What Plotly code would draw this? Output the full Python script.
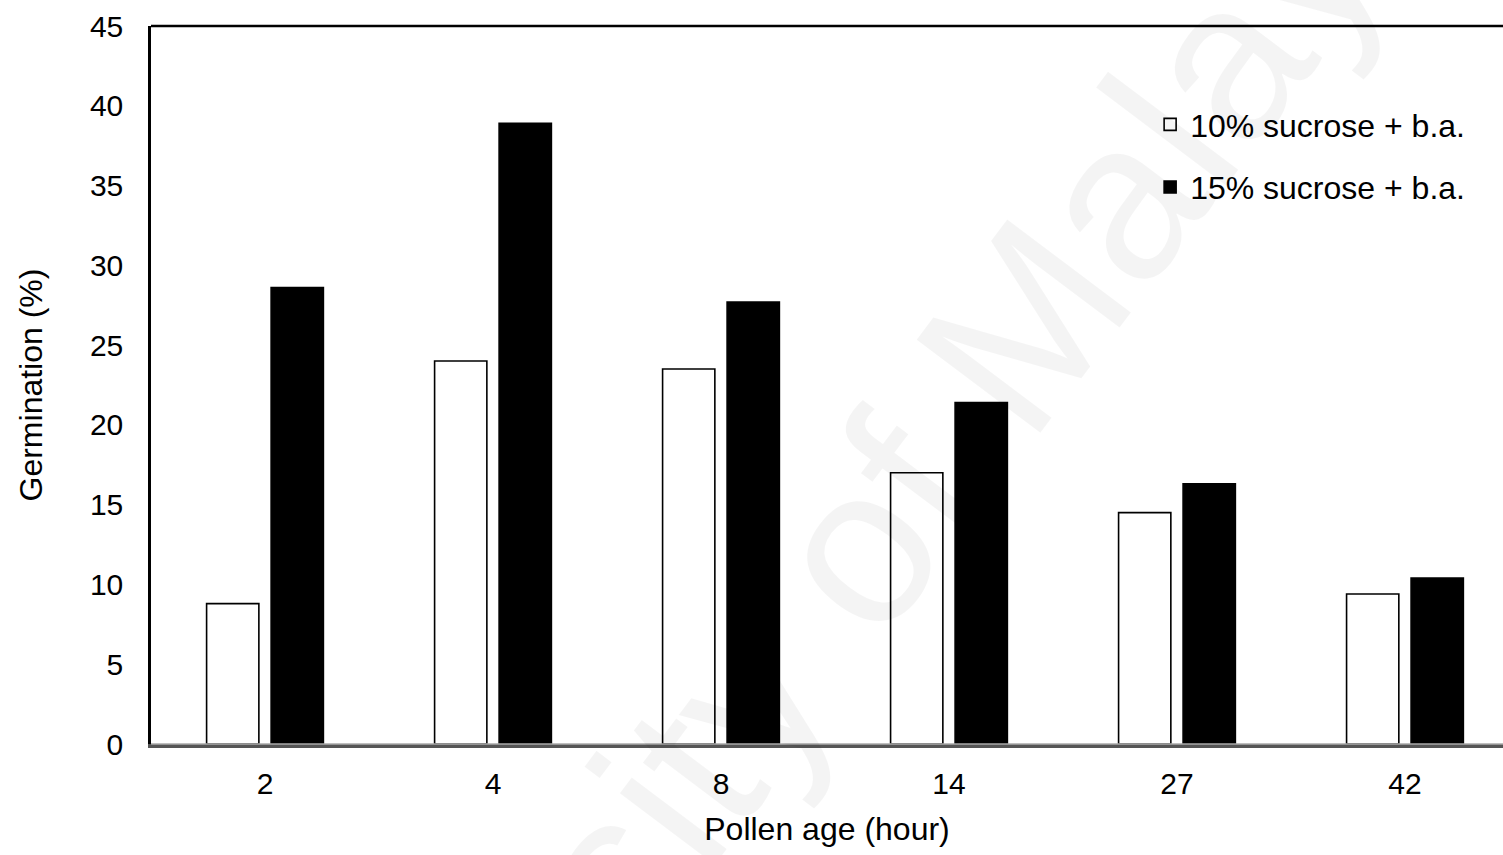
import plotly.graph_objects as go

categories = ["2", "4", "8", "14", "27", "42"]
sucrose10 = [8.8, 24.0, 23.5, 17.0, 14.5, 9.4]
sucrose15 = [28.6, 38.9, 27.7, 21.4, 16.3, 10.4]
series_names = ["10% sucrose + b.a.", "15% sucrose + b.a."]
y_ticks = [0, 5, 10, 15, 20, 25, 30, 35, 40, 45]

FONT = "Liberation Sans, Arial, sans-serif"

fig = go.Figure()
fig.add_trace(go.Bar(
    x=categories, y=sucrose10, name=series_names[0], legendgroup="a",
    marker=dict(color="white", line=dict(color="black", width=1.6)),
))
fig.add_trace(go.Bar(
    x=categories, y=sucrose15, name=series_names[1], legendgroup="b",
    marker=dict(color="black", line=dict(color="black", width=1.6)),
))

fig.update_layout(
    width=1503, height=855,
    margin=dict(l=151, r=0, t=26, b=111),
    paper_bgcolor="white", plot_bgcolor="white",
    barmode="group", bargap=0.434, bargroupgap=0.19,
    font=dict(family=FONT, size=30, color="black"),
    showlegend=True,
    legend=dict(
        x=0.739, y=0.901, xanchor="left", yanchor="top",
        font=dict(size=32), tracegroupgap=18, traceorder="grouped",
        bgcolor="rgba(0,0,0,0)", itemwidth=30,
    ),
    xaxis=dict(
        type="category", range=[-0.5, 5.43],
        showline=True, linecolor="#555555", linewidth=4,
        ticks="outside", ticklen=10, tickcolor="rgba(0,0,0,0)",
        tickfont=dict(size=30),
        title=dict(text="Pollen age (hour)", font=dict(size=32), standoff=20),
        showgrid=False, zeroline=False,
    ),
    yaxis=dict(
        range=[0, 45], tickvals=y_ticks,
        showline=True, linecolor="black", linewidth=2.5,
        ticks="outside", ticklen=19, tickcolor="rgba(0,0,0,0)",
        tickfont=dict(size=30),
        title=dict(text="Germination (%)", font=dict(size=32), standoff=38),
        showgrid=False, zeroline=False,
    ),
    shapes=[
        dict(type="line", xref="paper", yref="paper", x0=0, x1=1, y0=1, y1=1,
             line=dict(color="black", width=2.5)),
        dict(type="line", xref="paper", yref="paper", x0=0, x1=1, y0=0, y1=0,
             line=dict(color="#aaaaaa", width=1.5)),
    ],
    annotations=[
        dict(text="University of Malaya", xref="paper", yref="paper",
             x=(794 - 151) / (1503 - 151), y=(744 - 630) / (744 - 26),
             xanchor="center", yanchor="middle",
             showarrow=False, textangle=-53,
             font=dict(size=225, color="rgba(0,0,0,0.045)", family=FONT)),
    ],
)

fig.write_html("out.html")
